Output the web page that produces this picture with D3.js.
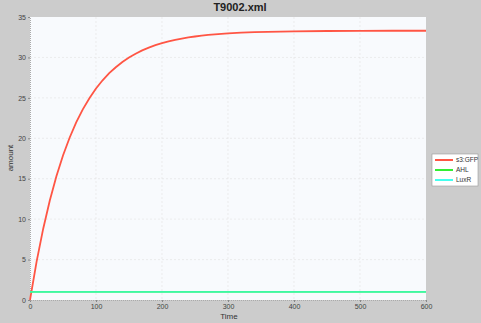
<!DOCTYPE html>
<html><head><meta charset="utf-8">
<script src="https://cdn.jsdelivr.net/npm/d3@7"></script>
<style>body{margin:0;background:#cccccc;}svg{display:block;}</style>
</head><body>
<svg id="c" width="481" height="323"></svg>
<script>
const title = "T9002.xml";
const xLabel = "Time";
const yLabel = "amount";
const xTicks = [0,100,200,300,400,500,600];
const yTicks = [0,5,10,15,20,25,30,35];
const seriesNames = ["s3:GFP","AHL","LuxR"];
const seriesColors = ["#ff5544","#33ee33","#44ffee"];
const times = [0,10,20,30,40,50,60,70,80,90,100,110,120,130,140,150,160,170,180,190,200,210,220,230,240,250,260,270,280,290,300,320,340,360,380,400,450,500,550,600];
const gfp = [0,4.75,8.82,12.31,15.30,17.87,20.07,21.96,23.58,24.96,26.15,27.17,28.05,28.79,29.44,29.99,30.46,30.87,31.21,31.51,31.76,31.98,32.17,32.33,32.47,32.59,32.69,32.78,32.85,32.92,32.97,33.06,33.12,33.17,33.20,33.23,33.27,33.29,33.30,33.30];
const ahl = times.map(()=>1.0);
const luxr = times.map(()=>1.0);
const seriesValues = [gfp, ahl, luxr];

const W=481,H=323, m={l:30,r:55,t:17,b:23};
const svg=d3.select("#c");
svg.append("rect").attr("width",W).attr("height",H).attr("fill","#cccccc");
const x=d3.scaleLinear().domain([0,600]).range([m.l,W-m.r]);
const y=d3.scaleLinear().domain([0,35]).range([H-m.b,m.t]);
svg.append("rect").attr("x",m.l).attr("y",m.t).attr("width",W-m.r-m.l).attr("height",H-m.b-m.t).attr("fill","#f8fafd");
// grid
svg.append("g").selectAll("line").data(xTicks.slice(1,-1)).join("line")
 .attr("x1",d=>x(d)).attr("x2",d=>x(d)).attr("y1",m.t).attr("y2",H-m.b)
 .attr("stroke","#e2e2e2").attr("stroke-width",0.6).attr("stroke-dasharray","2,2");
svg.append("g").selectAll("line").data(yTicks.slice(1,-1)).join("line")
 .attr("y1",d=>y(d)).attr("y2",d=>y(d)).attr("x1",m.l).attr("x2",W-m.r)
 .attr("stroke","#e2e2e2").attr("stroke-width",0.6).attr("stroke-dasharray","2,2");
// axes
const xa=svg.append("g").attr("transform",`translate(0,${H-m.b})`)
 .call(d3.axisBottom(x).tickValues(xTicks).tickSize(2).tickPadding(2));
const ya=svg.append("g").attr("transform",`translate(${m.l},0)`)
 .call(d3.axisLeft(y).tickValues(yTicks).tickSize(2).tickPadding(2));
[xa,ya].forEach(a=>{a.select(".domain").attr("stroke","#aaaaaa").attr("stroke-dasharray","1,1");
 a.selectAll(".tick line").attr("stroke","#888");
 a.selectAll("text").attr("font-family","Liberation Sans").attr("font-size",7).attr("fill","#444");});
// lines
const line=d3.line().x((d,i)=>x(times[i])).y(d=>y(d));
seriesValues.forEach((vals,k)=>{
 svg.append("path").datum(vals).attr("d",line).attr("fill","none")
  .attr("stroke",seriesColors[k]).attr("stroke-width",1.8)
  .attr("opacity",k===2?0.6:1);
});
// title & labels
svg.append("text").attr("x",240).attr("y",11).attr("text-anchor","middle")
 .attr("font-family","Liberation Sans").attr("font-weight","bold").attr("font-size",11).attr("fill","#222").text(title);
svg.append("text").attr("x",229).attr("y",319).attr("text-anchor","middle")
 .attr("font-family","Liberation Sans").attr("font-size",8).attr("fill","#333").text(xLabel);
svg.append("text").attr("transform","translate(13,158) rotate(-90)").attr("text-anchor","middle")
 .attr("font-family","Liberation Sans").attr("font-size",8).attr("fill","#333").text(yLabel);
// legend
const lg=svg.append("g").attr("transform","translate(432,154)");
lg.append("rect").attr("width",46).attr("height",32).attr("fill","#ffffff").attr("stroke","#999").attr("stroke-width",0.6);
seriesNames.forEach((n,k)=>{
 const yy=6+k*10;
 lg.append("line").attr("x1",3).attr("x2",21).attr("y1",yy).attr("y2",yy).attr("stroke",seriesColors[k]).attr("stroke-width",2);
 lg.append("text").attr("x",24).attr("y",yy+2).attr("font-family","Liberation Sans").attr("font-size",6.5).attr("fill","#333").text(n);
});
</script>
</body></html>
